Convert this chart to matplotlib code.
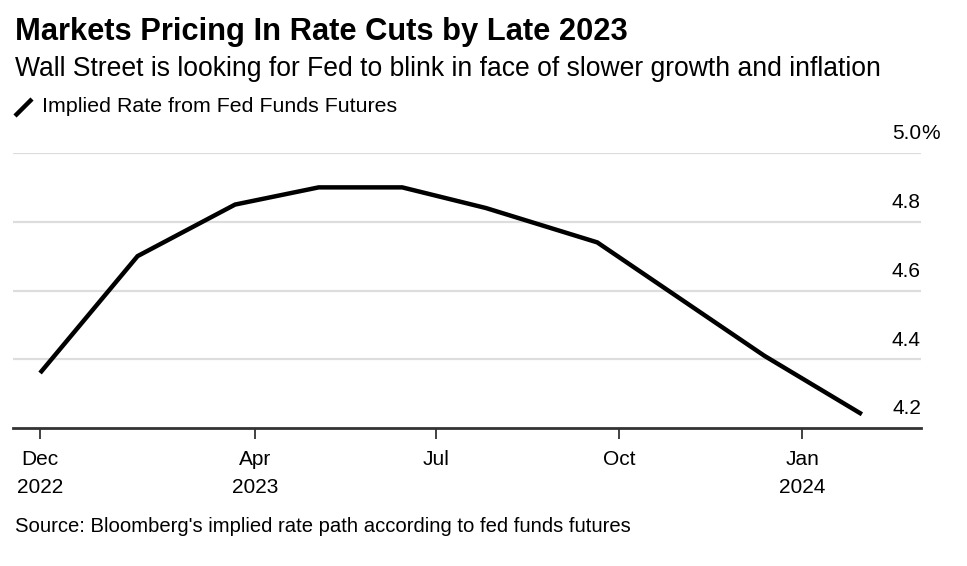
import matplotlib
matplotlib.use("Agg")
import matplotlib.pyplot as plt
import matplotlib.dates as mdates
from matplotlib.lines import Line2D
from matplotlib import font_manager

# ---- data ----
dates = ["2022-12-14", "2023-02-01", "2023-03-22", "2023-05-03", "2023-06-14",
         "2023-07-26", "2023-09-20", "2023-12-13", "2024-01-31"]
rates = [4.36, 4.70, 4.85, 4.90, 4.90, 4.84, 4.74, 4.41, 4.24]
tick_dates = ["2022-12-14", "2023-04-01", "2023-07-01", "2023-10-01", "2024-01-01"]
tick_labels = ["Dec\n2022", "Apr\n2023", "Jul", "Oct", "Jan\n2024"]
y_ticks = [4.2, 4.4, 4.6, 4.8, 5.0]
y_labels = ["4.2", "4.4", "4.6", "4.8", "5.0"]

title = "Markets Pricing In Rate Cuts by Late 2023"
subtitle = "Wall Street is looking for Fed to blink in face of slower growth and inflation"
legend_label = "Implied Rate from Fed Funds Futures"
source = "Source: Bloomberg's implied rate path according to fed funds futures"

names = {f.name for f in font_manager.fontManager.ttflist}
FONT = "Liberation Sans" if "Liberation Sans" in names else "DejaVu Sans"
plt.rcParams["font.family"] = [FONT, "DejaVu Sans"]

W, H = 967, 566
fig = plt.figure(figsize=(W / 100, H / 100), dpi=100)
fig.patch.set_facecolor("white")

x0, x1 = 13, 921
ytop, ybot = 153, 428
ax = fig.add_axes([x0 / W, 1 - ybot / H, (x1 - x0) / W, (ybot - ytop) / H])

xd = [mdates.datestr2num(d) for d in dates]
ax.plot(xd, rates, color="black", lw=3.2, solid_joinstyle="miter", solid_capstyle="butt",
        zorder=3, clip_on=False)

start = mdates.datestr2num(dates[0])
ax.set_xlim(start - 13.6, start + 442.7)
ax.set_ylim(4.2, 5.0)

for s in ["top", "right", "left"]:
    ax.spines[s].set_visible(False)
ax.spines["bottom"].set_color("#333333")
ax.spines["bottom"].set_linewidth(2)
ax.spines["bottom"].set_zorder(4)

for v in y_ticks[1:]:
    ax.axhline(v, color="#dddddd", lw=1.6, zorder=1)

ax.set_yticks([])
ax.set_xticks([mdates.datestr2num(d) for d in tick_dates])
ax.set_xticklabels(tick_labels, fontsize=15, linespacing=1.6)
ax.tick_params(axis="x", length=8, width=1.3, color="#333333", pad=8)

for v, lab in zip(y_ticks, y_labels):
    ax.annotate(lab, xy=(1.0, v), xycoords=("axes fraction", "data"),
                xytext=(0, 7), textcoords="offset points",
                ha="right", va="bottom", fontsize=15)
ax.annotate("%", xy=(1.0, 5.0), xycoords=("axes fraction", "data"),
            xytext=(0, 7), textcoords="offset points",
            ha="left", va="bottom", fontsize=15)

fig.text(15 / W, 1 - 32 / H, title, fontsize=22.2, fontweight="bold", va="center", ha="left")
fig.text(15 / W, 1 - 69 / H, subtitle, fontsize=19.1, va="center", ha="left")
fig.add_artist(Line2D([15 / W, 32 / W], [1 - 116 / H, 1 - 99 / H], color="black", lw=3.2,
                      transform=fig.transFigure, solid_capstyle="butt"))
fig.text(42 / W, 1 - 107 / H, legend_label, fontsize=15.4, va="center", ha="left")
fig.text(15 / W, 1 - 527 / H, source, fontsize=14.6, va="center", ha="left")

fig.savefig("out.png", dpi=100, facecolor="white")
